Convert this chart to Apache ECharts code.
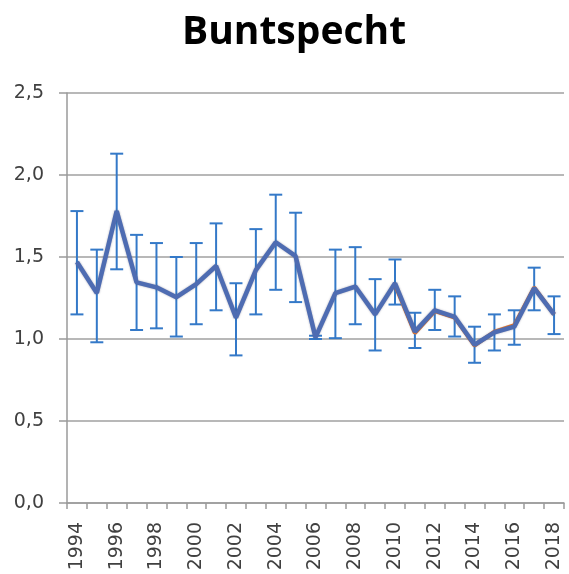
<!DOCTYPE html>
<html lang="de" style="height: 100%">
<head>
    <meta charset="UTF-8">
    <title>Buntspecht</title>
    <script src="https://cdn.jsdelivr.net/npm/echarts@6/dist/echarts.min.js"></script>
</head>
<body style="height: 100%; margin: 0; background: #fff">
<div id="container" style="width: 569px; height: 574px"></div>

<script type="text/javascript">
    // data
    var years = ['1994', '1995', '1996', '1997', '1998', '1999', '2000', '2001', '2002', '2003',
        '2004', '2005', '2006', '2007', '2008', '2009', '2010', '2011', '2012', '2013',
        '2014', '2015', '2016', '2017', '2018'];
    var index = [1.47, 1.28, 1.78, 1.345, 1.315, 1.255, 1.335, 1.445, 1.13, 1.42,
        1.59, 1.505, 1.01, 1.28, 1.32, 1.15, 1.34, 1.045, 1.175, 1.135,
        0.965, 1.04, 1.075, 1.31, 1.15];
    var errLow = [1.15, 0.98, 1.425, 1.055, 1.065, 1.015, 1.09, 1.175, 0.90, 1.15,
        1.30, 1.225, 1.0, 1.005, 1.09, 0.93, 1.21, 0.945, 1.055, 1.015,
        0.855, 0.93, 0.965, 1.175, 1.03];
    var errHigh = [1.78, 1.545, 2.13, 1.635, 1.585, 1.50, 1.585, 1.705, 1.34, 1.67,
        1.88, 1.77, 1.02, 1.545, 1.56, 1.365, 1.485, 1.16, 1.30, 1.26,
        1.075, 1.15, 1.175, 1.435, 1.26];
    // second (orange) line, mostly hidden under the blue one
    var trend = [null, null, null, null, null, null, null, null, null, null,
        null, null, null, null, null, null, 1.33, 1.035, 1.17, 1.13,
        0.96, 1.045, 1.085, 1.315, 1.15];

    var errData = years.map(function (y, i) {
        return [i, errLow[i], errHigh[i]];
    });

    var dom = document.getElementById("container");
    var myChart = echarts.init(dom, null, {renderer: 'canvas'});

    var option = {
        animation: false,
        title: {
            text: 'Buntspecht',
            left: 289,
            textAlign: 'center',
            top: 8,
            textStyle: {
                fontFamily: 'Open Sans',
                fontWeight: 'bold',
                fontSize: 39,
                color: '#000'
            }
        },
        grid: {
            left: 67,
            right: 5,
            top: 93,
            bottom: 71
        },
        xAxis: {
            type: 'category',
            data: years,
            boundaryGap: true,
            axisLine: {lineStyle: {color: '#9a9a9a', width: 1.5}},
            axisTick: {show: true, interval: 0, length: 6, lineStyle: {color: '#9a9a9a', width: 1.5}},
            axisLabel: {
                interval: 1,
                rotate: 90,
                margin: 19,
                fontFamily: 'DejaVu Sans',
                fontSize: 19,
                color: '#404040'
            }
        },
        yAxis: {
            type: 'value',
            min: 0,
            max: 2.5,
            interval: 0.5,
            axisLine: {show: true, lineStyle: {color: '#9a9a9a', width: 1.5}},
            axisTick: {show: true, length: 8, lineStyle: {color: '#9a9a9a', width: 1.5}},
            splitLine: {lineStyle: {color: '#a0a0a0', width: 1.5}},
            axisLabel: {
                margin: 23,
                fontFamily: 'DejaVu Sans',
                fontSize: 19,
                color: '#404040',
                formatter: function (v) {
                    return v.toFixed(1).replace('.', ',');
                }
            }
        },
        series: [
            {
                name: 'Fehler',
                type: 'custom',
                z: 2,
                data: errData,
                renderItem: function (params, api) {
                    var lo = api.coord([api.value(0), api.value(1)]);
                    var hi = api.coord([api.value(0), api.value(2)]);
                    var hw = 6.5;
                    var style = {stroke: '#3479c8', lineWidth: 2};
                    return {
                        type: 'group',
                        children: [
                            {type: 'line', shape: {x1: lo[0], y1: lo[1], x2: hi[0], y2: hi[1]}, style: style},
                            {type: 'line', shape: {x1: hi[0] - hw, y1: hi[1], x2: hi[0] + hw, y2: hi[1]}, style: style},
                            {type: 'line', shape: {x1: lo[0] - hw, y1: lo[1], x2: lo[0] + hw, y2: lo[1]}, style: style}
                        ]
                    };
                }
            },
            {
                name: 'Trend',
                type: 'line',
                z: 3,
                data: trend,
                symbol: 'none',
                connectNulls: false,
                lineStyle: {color: '#ed7d31', width: 4}
            },
            {
                name: 'Index',
                type: 'line',
                z: 4,
                data: index,
                symbol: 'none',
                lineStyle: {
                    color: '#4e6cb2',
                    width: 4.5,
                    shadowColor: 'rgba(60,60,90,0.45)',
                    shadowBlur: 2
                }
            }
        ]
    };
    myChart.setOption(option, true);
</script>
</body>
</html>
